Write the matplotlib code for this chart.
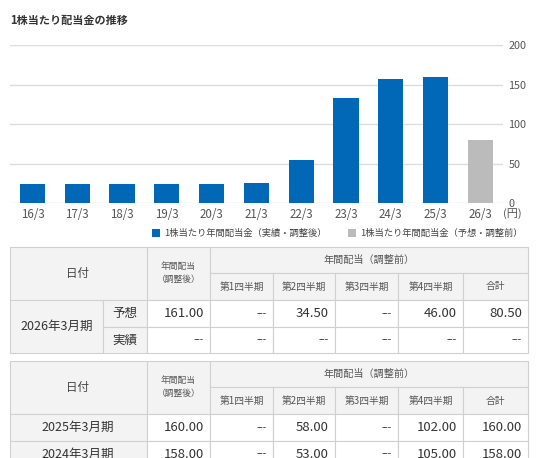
import numpy as np
import matplotlib as mpl
mpl.use('Agg')
import matplotlib.pyplot as plt
from matplotlib.patches import Rectangle

plt.rcParams['font.family'] = ['Noto Sans CJK JP', 'DejaVu Sans']

# chart data
years = ['16/3', '17/3', '18/3', '19/3', '20/3', '21/3', '22/3', '23/3', '24/3', '25/3', '26/3']
dividends = [25, 25, 25, 25, 25, 26, 55, 133, 158, 160, 80.5]
forecast = [False] * 10 + [True]
legend_labels = ['1株当たり年間配当金（実績・調整後）', '1株当たり年間配当金（予想・調整前）']

# table data
quarter_heads = ['第1四半期', '第2四半期', '第3四半期', '第4四半期', '合計']
t1_period = '2026年3月期'
t1_kinds = ['予想', '実績']
t1_rows = [['161.00', '---', '34.50', '---', '46.00', '80.50'],
           ['---', '---', '---', '---', '---', '---']]
t2_periods = ['2025年3月期', '2024年3月期']
t2_rows = [['160.00', '---', '58.00', '---', '102.00', '160.00'],
           ['158.00', '---', '53.00', '---', '105.00', '158.00']]

W, H = 540, 458
BLUE = '#0068b7'
GREY = '#bbbbbb'
TXT = '#333333'
LINE = '#d0d0d0'
HEAD = '#f3f3f3'

fig = plt.figure(figsize=(W / 100, H / 100), dpi=100)
fig.patch.set_facecolor('white')

def px_axes(l, t, w, h):
    return fig.add_axes([l / W, 1 - (t + h) / H, w / W, h / H])

# ---- bar chart ----
ax = px_axes(10, 45.5, 492.8, 158)
x = np.arange(len(years))
cols = [GREY if f else BLUE for f in forecast]
ax.bar(x, dividends, width=0.56, color=cols, zorder=3)
ax.set_xlim(-0.5, len(years) - 0.5)
ax.set_ylim(0, 200)
ax.set_yticks([0, 50, 100, 150, 200])
ax.yaxis.tick_right()
ax.set_xticks(x)
ax.set_xticklabels(years)
ax.tick_params(axis='y', length=0, pad=4, labelsize=7.8, labelcolor='#555555')
ax.tick_params(axis='x', length=0, pad=3.5, labelsize=8.3, labelcolor='#555555')
for s in ax.spines.values():
    s.set_visible(False)
ax.grid(axis='y', color='#dddddd', lw=1, zorder=0)
ax.set_facecolor('none')

# overlay in pixel coords for texts and tables
ov = fig.add_axes([0, 0, 1, 1])
ov.set_xlim(0, W)
ov.set_ylim(H, 0)
ov.axis('off')
ov.set_zorder(-1)

ov.text(10, 20, '1株当たり配当金の推移', fontsize=8, fontweight='bold', color=TXT, va='center', ha='left')
ov.text(512, 214, '(円)', fontsize=8, color='#555555', ha='center', va='center')

# legend
for lx, c, lab in [(151.5, BLUE, legend_labels[0]), (348, GREY, legend_labels[1])]:
    ov.add_patch(Rectangle((lx, 229), 8, 8, facecolor=c, edgecolor='none'))
    ov.text(lx + 12.5, 233, lab, fontsize=6.7, color='#444444', va='center', ha='left')

def cell(x0, y0, x1, y1, fc):
    ov.add_patch(Rectangle((x0, y0), x1 - x0, y1 - y0, facecolor=fc, edgecolor=LINE, lw=0.8))

qx = [210, 273, 335, 398, 463, 528]

def header(top, split, bottom):
    cell(10, top, 147, bottom, HEAD)
    ov.text(78, (top + bottom) / 2, '日付', fontsize=8.3, color='#444444', ha='center', va='center')
    cell(147, top, 210, bottom, HEAD)
    ov.text(178.5, (top + bottom) / 2 - 7, '年間配当', fontsize=6.3, color='#555555', ha='center', va='center')
    ov.text(178.5, (top + bottom) / 2 + 6, '（調整後）', fontsize=6.3, color='#555555', ha='center', va='center')
    cell(210, top, 528, split, HEAD)
    ov.text(369, (top + split) / 2, '年間配当（調整前）', fontsize=7.3, color='#555555', ha='center', va='center')
    for i, q in enumerate(quarter_heads):
        cell(qx[i], split, qx[i + 1], bottom, HEAD)
        ov.text((qx[i] + qx[i + 1]) / 2, (split + bottom) / 2, q, fontsize=7, color='#555555',
                ha='center', va='center')

def values(row, y0, y1):
    edges = [147] + qx
    for i, v in enumerate(row):
        cell(edges[i], y0, edges[i + 1], y1, 'white')
        ov.text(edges[i + 1] - 6, (y0 + y1) / 2, v, fontsize=9.5 if v != '---' else 7,
                color=TXT, ha='right', va='center')

# table 1
header(247.3, 273, 300)
rows1 = [300, 327.3, 353.3]
cell(10, rows1[0], 103, rows1[2], HEAD)
ov.text(56.5, (rows1[0] + rows1[2]) / 2, t1_period, fontsize=9, color=TXT, ha='center', va='center')
for r in range(2):
    cell(103, rows1[r], 147, rows1[r + 1], HEAD)
    ov.text(125, (rows1[r] + rows1[r + 1]) / 2, t1_kinds[r], fontsize=9, color=TXT, ha='center', va='center')
    values(t1_rows[r], rows1[r], rows1[r + 1])

# table 2
header(361, 387.3, 414.3)
rows2 = [414.3, 441, 468]
for r in range(2):
    cell(10, rows2[r], 147, rows2[r + 1], HEAD)
    ov.text(78, (rows2[r] + rows2[r + 1]) / 2, t2_periods[r], fontsize=9, color=TXT, ha='center', va='center')
    values(t2_rows[r], rows2[r], rows2[r + 1])

fig.savefig('out.png', dpi=100)
